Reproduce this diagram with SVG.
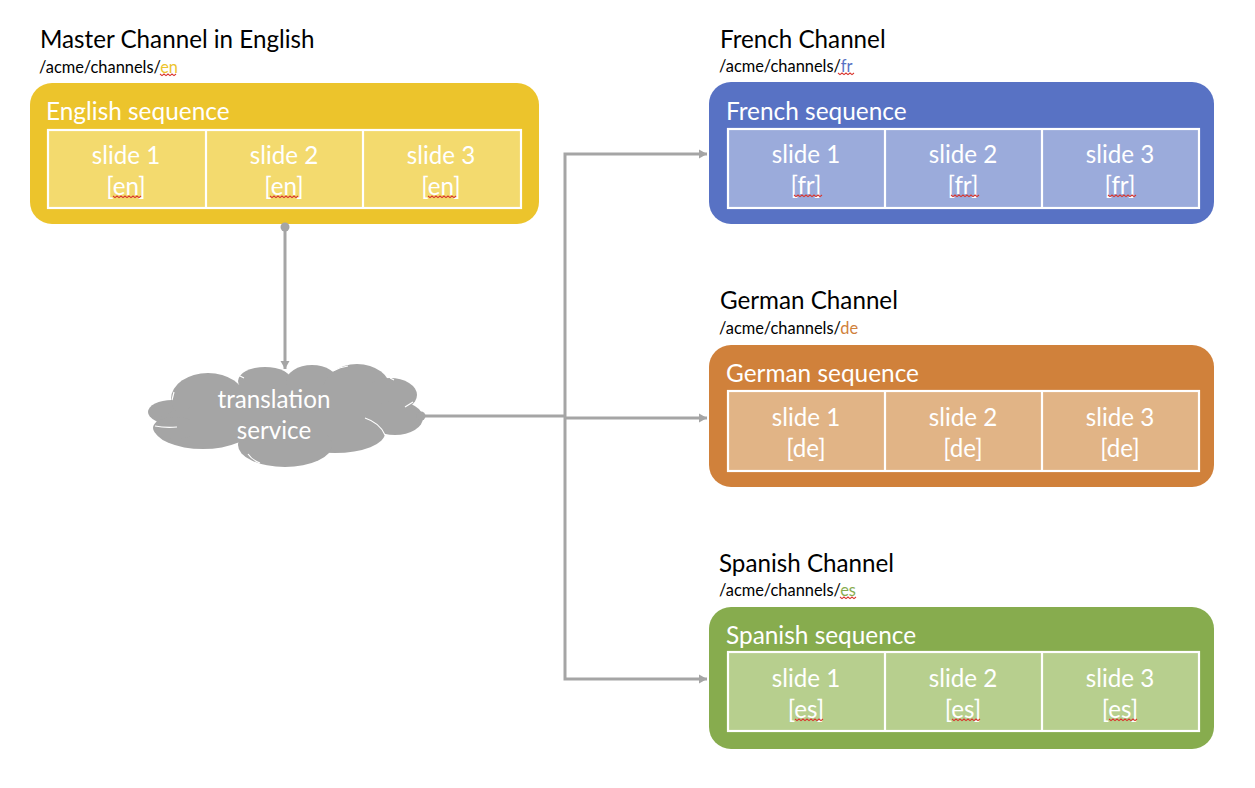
<svg xmlns="http://www.w3.org/2000/svg" width="1255" height="788" viewBox="0 0 1255 788">
<style>
text{font-family:"Lato","Open Sans","Liberation Sans",sans-serif;transform:translateY(.7px)}
.title{font-size:24.2px;fill:#000}
.path{font-size:16.4px;fill:#000}
.seq{font-size:24.4px;fill:#fff}
.cell{font-size:24.2px;fill:#fff;text-anchor:middle}
.grid{stroke:#fff;stroke-width:2.2}
.conn{fill:none;stroke:#a5a5a5;stroke-width:3}
.squig{fill:none;stroke:#d9362e;stroke-width:1.1}
.lobe{fill:#a5a5a5}
</style>
<defs>
<marker id="arrow" markerUnits="userSpaceOnUse" markerWidth="10" markerHeight="10" refX="8" refY="5" orient="auto"><path d="M0 0.5 L8 5 L0 9.5 Z" fill="#a5a5a5"/></marker>
<marker id="dot" markerUnits="userSpaceOnUse" markerWidth="10" markerHeight="10" refX="5" refY="5"><circle cx="5" cy="5" r="4.5" fill="#a5a5a5"/></marker>
<path id="sq" class="squig" d="M0 0 l2 1.6 2-1.6 2 1.6 2-1.6 2 1.6 2-1.6 2 1.6 2-1.6"/>
<path id="sq2" class="squig" d="M0 0 l2 1.6 2-1.6 2 1.6 2-1.6 2 1.6 2-1.6 2 1.6 2-1.6 2 1.6 2-1.6 2 1.6 2-1.6 2 1.6 2-1.6"/>
</defs>
<g id="english-channel">
<text class="title" x="40" y="47">Master Channel in English</text>
<text class="path" x="39" y="72">/acme/channels/<tspan fill="#ecc42c">en</tspan></text>
<use href="#sq" x="160" y="74"/>
<rect x="30" y="83" width="509" height="141" rx="22" fill="#ecc42c"/>
<text class="seq" x="46" y="119">English sequence</text>
<rect class="grid" x="48" y="130" width="473" height="78" fill="#f3da6e"/>
<path class="grid" d="M206 130 V208 M363 130 V208"/>
<text class="cell" x="126" y="163">slide 1</text><text class="cell" x="126" y="194">[en]</text>
<text class="cell" x="284" y="163">slide 2</text><text class="cell" x="284" y="194">[en]</text>
<text class="cell" x="441" y="163">slide 3</text><text class="cell" x="441" y="194">[en]</text>
<use href="#sq2" x="113" y="196"/><use href="#sq2" x="270" y="196"/><use href="#sq2" x="428" y="196"/>
</g>
<g id="french-channel">
<text class="title" x="720" y="47">French Channel</text>
<text class="path" x="719" y="71">/acme/channels/<tspan fill="#5872c4">fr</tspan></text>
<use href="#sq" x="838" y="73"/>
<rect x="709" y="82" width="505" height="142" rx="22" fill="#5872c4"/>
<text class="seq" x="726" y="119">French sequence</text>
<rect class="grid" x="728" y="129" width="471" height="79" fill="#9babdb"/>
<path class="grid" d="M885 129 V208 M1042 129 V208"/>
<text class="cell" x="806" y="162">slide 1</text><text class="cell" x="806" y="193">[fr]</text>
<text class="cell" x="963" y="162">slide 2</text><text class="cell" x="963" y="193">[fr]</text>
<text class="cell" x="1120" y="162">slide 3</text><text class="cell" x="1120" y="193">[fr]</text>
<use href="#sq2" x="794" y="195"/><use href="#sq2" x="951" y="195"/><use href="#sq2" x="1108" y="195"/>
</g>
<g id="german-channel">
<text class="title" x="720" y="308">German Channel</text>
<text class="path" x="719" y="333">/acme/channels/<tspan fill="#d0813b">de</tspan></text>
<rect x="709" y="345" width="505" height="142" rx="22" fill="#d0813b"/>
<text class="seq" x="726" y="381">German sequence</text>
<rect class="grid" x="728" y="391" width="471" height="80" fill="#e1b486"/>
<path class="grid" d="M885 391 V471 M1042 391 V471"/>
<text class="cell" x="806" y="425">slide 1</text><text class="cell" x="806" y="456">[de]</text>
<text class="cell" x="963" y="425">slide 2</text><text class="cell" x="963" y="456">[de]</text>
<text class="cell" x="1120" y="425">slide 3</text><text class="cell" x="1120" y="456">[de]</text>
</g>
<g id="spanish-channel">
<text class="title" x="719" y="571">Spanish Channel</text>
<text class="path" x="719" y="595">/acme/channels/<tspan fill="#87ac4e">es</tspan></text>
<use href="#sq" x="840" y="597"/>
<rect x="709" y="607" width="505" height="142" rx="22" fill="#87ac4e"/>
<text class="seq" x="726" y="643">Spanish sequence</text>
<rect class="grid" x="728" y="652" width="471" height="79" fill="#b7cf8e"/>
<path class="grid" d="M885 652 V731 M1042 652 V731"/>
<text class="cell" x="806" y="686">slide 1</text><text class="cell" x="806" y="717">[es]</text>
<text class="cell" x="963" y="686">slide 2</text><text class="cell" x="963" y="717">[es]</text>
<text class="cell" x="1120" y="686">slide 3</text><text class="cell" x="1120" y="717">[es]</text>
<use href="#sq2" x="795" y="719"/><use href="#sq2" x="952" y="719"/><use href="#sq2" x="1109" y="719"/>
</g>
<g id="translation-service">
<ellipse class="lobe" cx="172" cy="412" rx="24" ry="12"/>
<ellipse class="lobe" cx="208" cy="399" rx="37" ry="26"/>
<ellipse class="lobe" cx="265" cy="381" rx="27" ry="14"/>
<ellipse class="lobe" cx="312" cy="382" rx="26" ry="17"/>
<ellipse class="lobe" cx="357" cy="390" rx="34" ry="26"/>
<ellipse class="lobe" cx="390" cy="395" rx="27" ry="17"/>
<ellipse class="lobe" cx="395" cy="418" rx="28" ry="17"/>
<ellipse class="lobe" cx="335" cy="433" rx="50" ry="20"/>
<ellipse class="lobe" cx="285" cy="445" rx="47" ry="22"/>
<ellipse class="lobe" cx="203" cy="428" rx="49" ry="21"/>
<ellipse class="lobe" cx="175" cy="428" rx="22" ry="11"/>
<rect class="lobe" x="190" y="385" width="190" height="50"/>
<path d="M155 426 Q165 428 177 427 M365 418 Q380 423 385 435 M405 407 L413 402 M248 454 Q252 460 260 463 M172 400 L174 392 M238 375 L244 378 M333 371 Q340 367 348 366 M390 378 L394 380 M288 373 L285 370" fill="none" stroke="#fff" stroke-width="1.2"/>
<text class="cell" x="274" y="407">translation</text>
<text class="cell" x="274" y="438">service</text>
</g>
<g id="connectors">
<path class="conn" d="M285 227 V369" marker-start="url(#dot)" marker-end="url(#arrow)"/>
<path class="conn" d="M421 416 H565" marker-start="url(#dot)"/>
<path class="conn" d="M565 416 V154 H707" marker-end="url(#arrow)"/>
<path class="conn" d="M565 418 H707" marker-end="url(#arrow)"/>
<path class="conn" d="M565 416 V679 H707" marker-end="url(#arrow)"/>
</g>
</svg>
